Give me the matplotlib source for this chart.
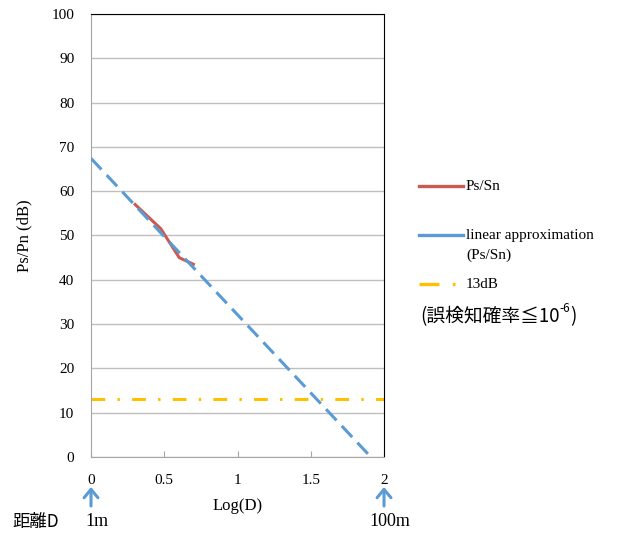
#!/usr/bin/env python3
"""Ps/Pn vs Log(D) with linear approximation and 13dB threshold."""

import matplotlib
matplotlib.use('Agg')
import matplotlib.pyplot as plt
from matplotlib.lines import Line2D
from matplotlib.patches import FancyArrowPatch

# measured Ps/Sn at D = 2, 3, 4, 5 m
log_d = [0.301, 0.477, 0.602, 0.699]
ps_sn = [57.0, 51.5, 45.0, 43.5]

# linear approximation end points
approx_x = [0.0, 1.91]
approx_y = [67.4, 0.0]

threshold = 13
x_ticks = [0, 0.5, 1, 1.5, 2]
y_ticks = list(range(0, 101, 10))

serif = 'Liberation Serif'
jp = ['Noto Sans CJK JP', 'DejaVu Sans']
red = '#CD5A52'
blue = '#5B9BD5'
gold = '#FFC000'
W, H = 617, 537

fig = plt.figure(figsize=(6.17, 5.37), dpi=100)
ax = fig.add_axes([0.1475, 0.149, 0.4749, 0.825])

ax.plot(log_d, ps_sn, color=red, linewidth=2.2, zorder=3)
ax.plot(approx_x, approx_y, color=blue, linewidth=2.2, dashes=(5, 2.5), zorder=4)
ax.plot([0, 2], [threshold, threshold], color=gold, linewidth=2.2,
        dashes=(4.5, 4, 0.8, 4), zorder=2)

ax.set_xlim(0, 2)
ax.set_ylim(0, 100)
ax.set_xticks(x_ticks)
ax.set_xticklabels(['0', '0.5', '1', '1.5', '2'])
ax.set_yticks(y_ticks)
ax.grid(axis='y', color='#bfbfbf', linewidth=1)
ax.set_axisbelow(True)
for s in ['left', 'bottom']:
    ax.spines[s].set_color('#a6a6a6')
for s in ['top', 'right']:
    ax.spines[s].set_color('black')
ax.tick_params(axis='x', direction='in', length=4, color='#a6a6a6', pad=12)
ax.tick_params(axis='y', length=0, pad=12)
for lab in ax.get_xticklabels() + ax.get_yticklabels():
    lab.set_fontfamily(serif)
    lab.set_fontsize(11)

ax.set_ylabel('Ps/Pn (dB)', fontfamily=serif, fontsize=12, labelpad=14)
ax.set_xlabel('Log(D)', fontfamily=serif, fontsize=12, labelpad=8)


def fx(px):
    return px / W


def fy(py):
    return 1 - py / H


# legend drawn by hand
legend_items = [
    (186, red, None, 'Ps/Sn'),
    (235, blue, None, 'linear approximation\n(Ps/Sn)'),
    (284, gold, (6, 4, 0.8, 4), '13dB'),
]
for py, col, dash, txt in legend_items:
    ln = Line2D([fx(419), fx(463)], [fy(py), fy(py)], transform=fig.transFigure,
                color=col, linewidth=2.4)
    if dash is not None:
        ln.set_dashes(dash)
    fig.add_artist(ln)
    if '\n' in txt:
        fig.text(fx(466), fy(py - 6), txt, family=serif, fontsize=11, va='top',
                 linespacing=1.6)
    else:
        fig.text(fx(466), fy(py + 1), txt, family=serif, fontsize=11, va='center')

# error rate note
t1 = fig.text(fx(420), fy(317), '(誤検知確率≦10', family=jp, fontsize=13.5, va='center')
fig.canvas.draw()
bb = t1.get_window_extent().transformed(fig.transFigure.inverted())
t2 = fig.text(bb.x1, fy(309), '-6', family=jp, fontsize=8.5, va='center')
fig.canvas.draw()
bb2 = t2.get_window_extent().transformed(fig.transFigure.inverted())
fig.text(bb2.x1, fy(317), ')', family=jp, fontsize=13.5, va='center')

# distance markers
for xv, txt in [(0, '1m'), (2, '100m')]:
    xf = fig.transFigure.inverted().transform(ax.transData.transform((xv, 0)))[0]
    fig.text(xf + fx(6), fy(522), txt, family=serif, fontsize=13, ha='center', va='center')
    fig.add_artist(FancyArrowPatch(
        (xf, fy(506)), (xf, fy(487)), transform=fig.transFigure,
        arrowstyle='->,head_length=6,head_width=5', color=blue,
        linewidth=2.2, mutation_scale=1, shrinkA=0, shrinkB=0))
fig.text(fx(12), fy(522), '距離D', family=jp, fontsize=12.5, va='center')

fig.savefig('out.png', dpi=100)
